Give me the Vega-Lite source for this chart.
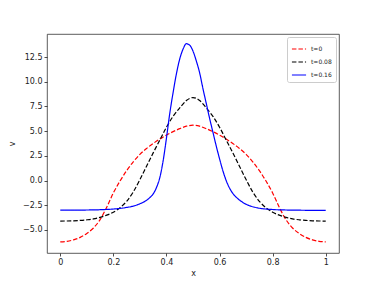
{
  "$schema": "https://vega.github.io/schema/vega-lite/v6.json",
  "autosize": "none",
  "width": 292,
  "height": 219,
  "padding": {"left": 47, "top": 34, "right": 38, "bottom": 30},
  "background": "white",
  "config": {
    "font": "DejaVu Sans",
    "view": {"stroke": "#333", "strokeWidth": 0.8},
    "axis": {
      "grid": false, "domain": false, "tickColor": "#222", "tickSize": 3, "tickWidth": 0.8,
      "labelFontSize": 8, "labelColor": "#222", "labelPadding": 2,
      "titleFontSize": 8, "titleFontWeight": "normal", "titleColor": "#222"
    }
  },
  "data": {"values": [
    {"x":0,"v":-6.2,"t":"t=0"},{"x":0.025,"v":-6.15,"t":"t=0"},{"x":0.05,"v":-6.0,"t":"t=0"},{"x":0.075,"v":-5.75,"t":"t=0"},{"x":0.1,"v":-5.35,"t":"t=0"},{"x":0.125,"v":-4.8,"t":"t=0"},{"x":0.15,"v":-3.95,"t":"t=0"},{"x":0.175,"v":-2.7,"t":"t=0"},{"x":0.2,"v":-1.25,"t":"t=0"},{"x":0.225,"v":-0.05,"t":"t=0"},{"x":0.25,"v":1.0,"t":"t=0"},{"x":0.275,"v":1.9,"t":"t=0"},{"x":0.3,"v":2.65,"t":"t=0"},{"x":0.325,"v":3.25,"t":"t=0"},{"x":0.35,"v":3.75,"t":"t=0"},{"x":0.375,"v":4.2,"t":"t=0"},{"x":0.4,"v":4.6,"t":"t=0"},{"x":0.425,"v":4.95,"t":"t=0"},{"x":0.45,"v":5.25,"t":"t=0"},{"x":0.475,"v":5.5,"t":"t=0"},{"x":0.5,"v":5.6,"t":"t=0"},{"x":0.525,"v":5.5,"t":"t=0"},{"x":0.55,"v":5.25,"t":"t=0"},{"x":0.575,"v":4.95,"t":"t=0"},{"x":0.6,"v":4.6,"t":"t=0"},{"x":0.625,"v":4.2,"t":"t=0"},{"x":0.65,"v":3.75,"t":"t=0"},{"x":0.675,"v":3.25,"t":"t=0"},{"x":0.7,"v":2.65,"t":"t=0"},{"x":0.725,"v":1.9,"t":"t=0"},{"x":0.75,"v":1.0,"t":"t=0"},{"x":0.775,"v":-0.05,"t":"t=0"},{"x":0.8,"v":-1.25,"t":"t=0"},{"x":0.825,"v":-2.7,"t":"t=0"},{"x":0.85,"v":-3.95,"t":"t=0"},{"x":0.875,"v":-4.8,"t":"t=0"},{"x":0.9,"v":-5.35,"t":"t=0"},{"x":0.925,"v":-5.75,"t":"t=0"},{"x":0.95,"v":-6.0,"t":"t=0"},{"x":0.975,"v":-6.15,"t":"t=0"},{"x":1,"v":-6.2,"t":"t=0"},

    {"x":0,"v":-4.1,"t":"t=0.08"},{"x":0.025,"v":-4.09,"t":"t=0.08"},{"x":0.05,"v":-4.07,"t":"t=0.08"},{"x":0.075,"v":-4.03,"t":"t=0.08"},{"x":0.1,"v":-3.97,"t":"t=0.08"},{"x":0.125,"v":-3.88,"t":"t=0.08"},{"x":0.15,"v":-3.72,"t":"t=0.08"},{"x":0.175,"v":-3.5,"t":"t=0.08"},{"x":0.2,"v":-3.2,"t":"t=0.08"},{"x":0.225,"v":-2.75,"t":"t=0.08"},{"x":0.25,"v":-2.1,"t":"t=0.08"},{"x":0.275,"v":-1.15,"t":"t=0.08"},{"x":0.3,"v":0.1,"t":"t=0.08"},{"x":0.325,"v":1.45,"t":"t=0.08"},{"x":0.35,"v":2.8,"t":"t=0.08"},{"x":0.375,"v":4.1,"t":"t=0.08"},{"x":0.4,"v":5.4,"t":"t=0.08"},{"x":0.425,"v":6.5,"t":"t=0.08"},{"x":0.45,"v":7.35,"t":"t=0.08"},{"x":0.475,"v":8.1,"t":"t=0.08"},{"x":0.5,"v":8.4,"t":"t=0.08"},{"x":0.525,"v":8.1,"t":"t=0.08"},{"x":0.55,"v":7.35,"t":"t=0.08"},{"x":0.575,"v":6.5,"t":"t=0.08"},{"x":0.6,"v":5.4,"t":"t=0.08"},{"x":0.625,"v":4.1,"t":"t=0.08"},{"x":0.65,"v":2.8,"t":"t=0.08"},{"x":0.675,"v":1.45,"t":"t=0.08"},{"x":0.7,"v":0.1,"t":"t=0.08"},{"x":0.725,"v":-1.15,"t":"t=0.08"},{"x":0.75,"v":-2.1,"t":"t=0.08"},{"x":0.775,"v":-2.75,"t":"t=0.08"},{"x":0.8,"v":-3.2,"t":"t=0.08"},{"x":0.825,"v":-3.5,"t":"t=0.08"},{"x":0.85,"v":-3.72,"t":"t=0.08"},{"x":0.875,"v":-3.88,"t":"t=0.08"},{"x":0.9,"v":-3.97,"t":"t=0.08"},{"x":0.925,"v":-4.03,"t":"t=0.08"},{"x":0.95,"v":-4.07,"t":"t=0.08"},{"x":0.975,"v":-4.09,"t":"t=0.08"},{"x":1,"v":-4.1,"t":"t=0.08"},

    {"x":0,"v":-3.0,"t":"t=0.16"},{"x":0.05,"v":-3.0,"t":"t=0.16"},{"x":0.1,"v":-2.98,"t":"t=0.16"},{"x":0.15,"v":-2.95,"t":"t=0.16"},{"x":0.2,"v":-2.88,"t":"t=0.16"},{"x":0.25,"v":-2.72,"t":"t=0.16"},{"x":0.275,"v":-2.58,"t":"t=0.16"},{"x":0.3,"v":-2.35,"t":"t=0.16"},{"x":0.325,"v":-2.0,"t":"t=0.16"},{"x":0.3375,"v":-1.72,"t":"t=0.16"},{"x":0.35,"v":-1.35,"t":"t=0.16"},{"x":0.3625,"v":-0.7,"t":"t=0.16"},{"x":0.375,"v":0.3,"t":"t=0.16"},{"x":0.3875,"v":2.0,"t":"t=0.16"},{"x":0.4,"v":4.3,"t":"t=0.16"},{"x":0.4125,"v":6.8,"t":"t=0.16"},{"x":0.425,"v":8.9,"t":"t=0.16"},{"x":0.4375,"v":10.8,"t":"t=0.16"},{"x":0.45,"v":12.3,"t":"t=0.16"},{"x":0.4625,"v":13.3,"t":"t=0.16"},{"x":0.475,"v":13.85,"t":"t=0.16"},{"x":0.4875,"v":13.7,"t":"t=0.16"},{"x":0.5,"v":13.1,"t":"t=0.16"},{"x":0.5125,"v":12.1,"t":"t=0.16"},{"x":0.525,"v":10.9,"t":"t=0.16"},{"x":0.5375,"v":9.3,"t":"t=0.16"},{"x":0.55,"v":7.8,"t":"t=0.16"},{"x":0.5625,"v":6.3,"t":"t=0.16"},{"x":0.575,"v":4.9,"t":"t=0.16"},{"x":0.5875,"v":3.5,"t":"t=0.16"},{"x":0.6,"v":2.2,"t":"t=0.16"},{"x":0.6125,"v":1.0,"t":"t=0.16"},{"x":0.625,"v":0.0,"t":"t=0.16"},{"x":0.6375,"v":-0.75,"t":"t=0.16"},{"x":0.65,"v":-1.3,"t":"t=0.16"},{"x":0.6625,"v":-1.68,"t":"t=0.16"},{"x":0.675,"v":-1.97,"t":"t=0.16"},{"x":0.7,"v":-2.4,"t":"t=0.16"},{"x":0.725,"v":-2.65,"t":"t=0.16"},{"x":0.75,"v":-2.8,"t":"t=0.16"},{"x":0.8,"v":-2.93,"t":"t=0.16"},{"x":0.85,"v":-2.98,"t":"t=0.16"},{"x":0.9,"v":-3.0,"t":"t=0.16"},{"x":1,"v":-3.02,"t":"t=0.16"}
  ]},
  "mark": {"type": "line", "strokeWidth": 1.2, "interpolate": "monotone"},
  "encoding": {
    "x": {"field": "x", "type": "quantitative",
      "scale": {"domain": [-0.05, 1.05], "nice": false, "zero": false},
      "axis": {"values": [0, 0.2, 0.4, 0.6, 0.8, 1], "format": "~g", "title": "x", "titlePadding": 3}},
    "y": {"field": "v", "type": "quantitative",
      "scale": {"domain": [-7.33, 14.83], "nice": false, "zero": false},
      "axis": {"values": [-5, -2.5, 0, 2.5, 5, 7.5, 10, 12.5], "format": ".1f", "title": "v", "titlePadding": 6}},
    "color": {"field": "t", "type": "nominal",
      "scale": {"domain": ["t=0", "t=0.08", "t=0.16"], "range": ["red", "black", "blue"]},
      "legend": {"title": null, "orient": "top-right", "offset": 3, "padding": 4,
        "strokeColor": "#ccc", "fillColor": "white", "cornerRadius": 2,
        "labelFontSize": 6, "labelColor": "#222", "symbolType": "stroke", "symbolSize": 200,
        "symbolStrokeWidth": 1.2, "rowPadding": 2, "labelOffset": 4}},
    "strokeDash": {"field": "t", "type": "nominal",
      "scale": {"domain": ["t=0", "t=0.08", "t=0.16"], "range": [[4.5, 2], [4.5, 2], [1, 0]]},
      "legend": null}
  }
}
